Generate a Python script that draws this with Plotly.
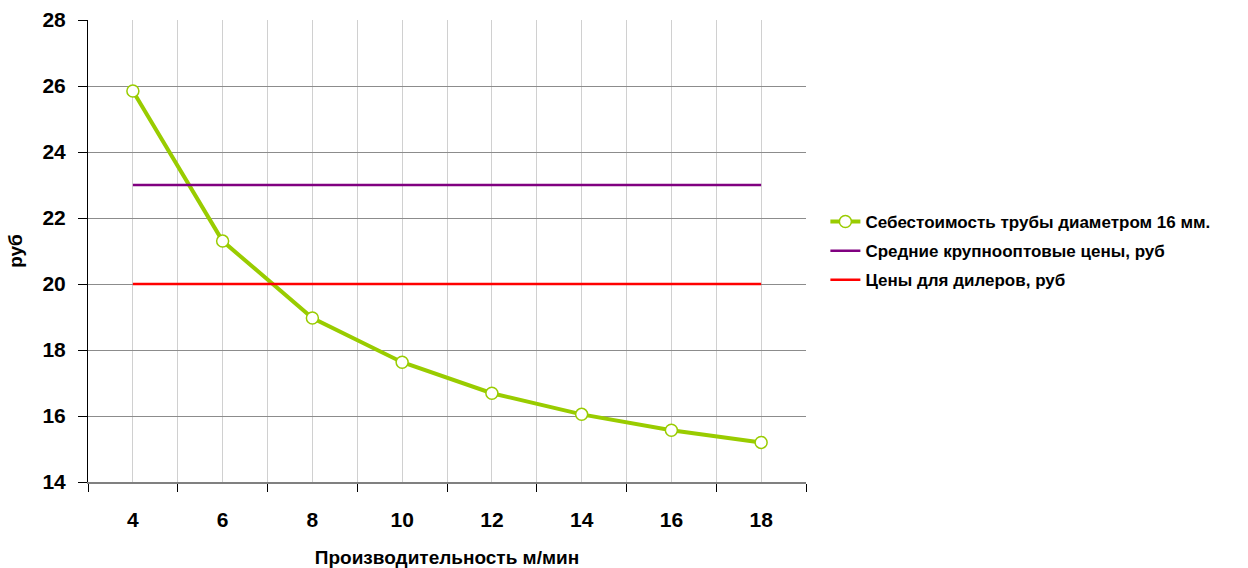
import plotly.graph_objects as go

# Производительность, м/мин
speed = [4, 6, 8, 10, 12, 14, 16, 18]
# Себестоимость трубы диаметром 16 мм, руб
cost = [25.85, 21.3, 18.97, 17.63, 16.69, 16.05, 15.57, 15.2]
# Средние крупнооптовые цены, руб
wholesale = [23, 23, 23, 23, 23, 23, 23, 23]
# Цены для дилеров, руб
dealer = [20, 20, 20, 20, 20, 20, 20, 20]

y_ticks = [14, 16, 18, 20, 22, 24, 26, 28]
x_bounds = [3, 5, 7, 9, 11, 13, 15, 17, 19]

font_family = "Liberation Sans, Arial, sans-serif"

fig = go.Figure()
fig.add_trace(go.Scatter(
    x=speed, y=cost, mode="lines+markers",
    name="<b>Себестоимость трубы диаметром 16 мм.</b>",
    legendgroup="a",
    line=dict(color="#99CC00", width=4),
    marker=dict(symbol="circle", size=12, color="white",
                line=dict(color="#99CC00", width=1.5)),
))
fig.add_trace(go.Scatter(
    x=speed, y=wholesale, mode="lines",
    name="<b>Средние крупнооптовые цены, руб</b>",
    legendgroup="b",
    line=dict(color="#800080", width=2.5),
))
fig.add_trace(go.Scatter(
    x=speed, y=dealer, mode="lines",
    name="<b>Цены для дилеров, руб</b>",
    legendgroup="c",
    line=dict(color="#FF0000", width=2.5),
))

fig.update_layout(
    width=1248, height=568,
    margin=dict(l=88, r=442, t=20, b=86, autoexpand=False),
    paper_bgcolor="white", plot_bgcolor="white",
    font=dict(family=font_family, color="black"),
    showlegend=True,
    legend=dict(x=1.027, y=0.5, xanchor="left", yanchor="middle",
                font=dict(size=17, family=font_family),
                tracegroupgap=4, itemwidth=30),
    xaxis=dict(
        range=[3, 19], tickmode="array", tickvals=speed,
        ticktext=[f"<b>{v}</b>" for v in speed],
        ticks="", showgrid=True, gridcolor="#D0D0D0", gridwidth=1,
        minor=dict(tickmode="array", tickvals=x_bounds, ticks="outside",
                   ticklen=8, tickcolor="black", showgrid=True,
                   gridcolor="#D0D0D0", gridwidth=1),
        showline=True, linecolor="#808080", linewidth=2,
        tickfont=dict(size=21), zeroline=False, ticklabelstandoff=18,
        automargin=False,
        title=dict(text="<b>Производительность м/мин</b>",
                   font=dict(size=19), standoff=22),
    ),
    yaxis=dict(
        range=[14, 28], tickmode="array", tickvals=y_ticks,
        ticktext=[f"<b>{v}</b>" for v in y_ticks],
        ticks="outside", ticklen=9, tickcolor="black",
        showgrid=True, gridcolor="#8C8C8C", gridwidth=1,
        showline=True, linecolor="black", linewidth=1,
        tickfont=dict(size=21), zeroline=False, ticklabelstandoff=8,
        automargin=False,
        title=dict(text="<b>руб</b>", font=dict(size=19), standoff=14),
    ),
)

fig.write_html("out.html")
